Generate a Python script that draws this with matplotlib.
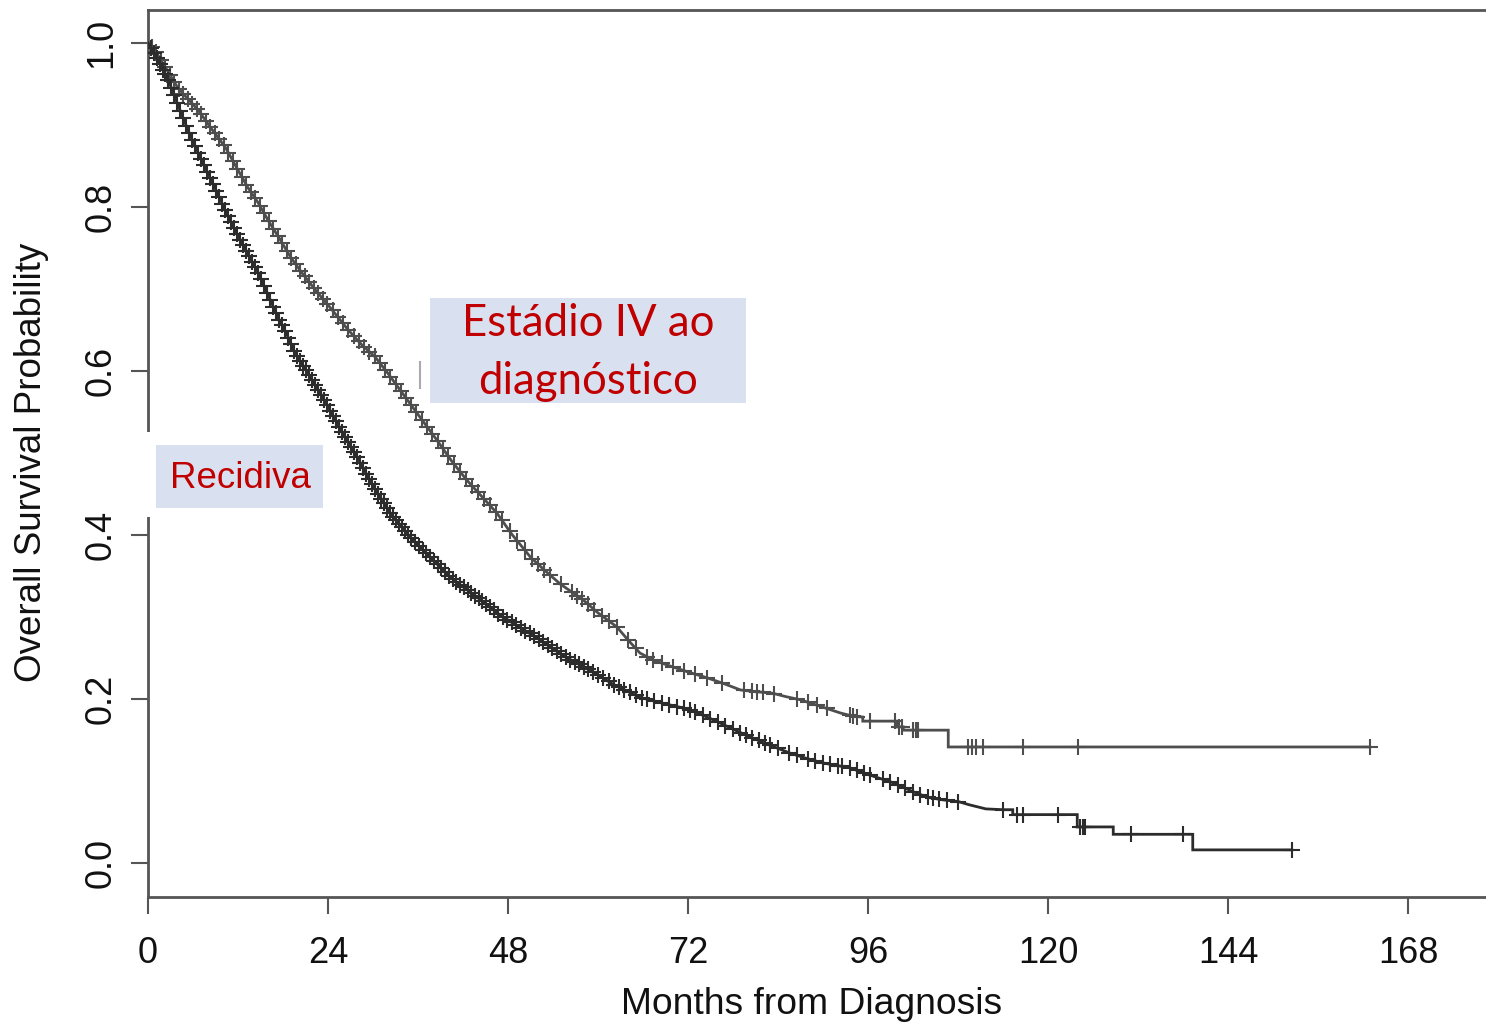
import numpy as np
import matplotlib
matplotlib.use('Agg')
import matplotlib.pyplot as plt
from matplotlib.patches import Rectangle
from matplotlib.lines import Line2D

# Estádio IV ao diagnóstico (upper curve): months, survival (vertices as read)
st4_t = [0, 1, 2, 3, 4, 5, 6.7, 8.5, 10.3, 12, 13.3, 14.7, 16, 17.5, 19, 20.5, 22.3, 24.5,
         26.7, 28.5, 30.3, 32, 33.6, 36, 38.5, 40.5, 42.5, 44.5, 46.5, 48.5, 51, 53, 55, 58,
         60, 62.5, 64, 65.6, 67.5, 70, 72, 74.5, 77, 79, 81, 83.3, 85, 87, 89, 92.3, 94,
         95.3, 95.3, 99.9, 99.9, 100.7, 100.7, 106.7, 106.7, 162.9]
st4_s = [1.0, 0.99, 0.975, 0.96, 0.945, 0.935, 0.918, 0.895, 0.873, 0.845, 0.824, 0.805,
         0.784, 0.762, 0.739, 0.72, 0.699, 0.675, 0.650, 0.632, 0.617, 0.597, 0.577, 0.547,
         0.516, 0.49, 0.467, 0.447, 0.427, 0.401, 0.373, 0.356, 0.34, 0.321, 0.305, 0.288,
         0.272, 0.256, 0.247, 0.239, 0.233, 0.226, 0.218, 0.211, 0.209, 0.207, 0.203, 0.199,
         0.193, 0.183, 0.179, 0.178, 0.173, 0.173, 0.166, 0.166, 0.162, 0.162, 0.1415, 0.1415]
st4_cens = [0.5, 1.1, 1.7, 2.3, 2.9, 3.5, 4.1, 4.7, 5.3, 5.9, 6.5, 7.1, 7.7, 8.3, 8.9, 9.5,
            10.1, 10.7, 11.3, 11.9, 12.5, 13.1, 13.7, 14.3, 14.9, 15.5, 16.1, 16.7, 17.3,
            17.9, 18.5, 19.1, 19.7, 20.3, 20.9, 21.5, 22.1, 22.7, 23.3, 23.9, 24.6, 25.3, 26,
            26.7, 27.4, 28.1, 28.8, 29.5, 30.2, 30.9, 31.6, 32.3, 33, 33.7, 34.4, 35.1, 35.8,
            36.5, 37.2, 37.9, 38.6, 39.3, 40, 40.8, 41.6, 42.4, 43.2, 44, 44.8, 45.6, 46.4,
            47.2, 48.2, 49.2, 50.2, 51.2, 52, 52.8, 53.6, 55, 56.5, 57.2, 57.9, 58.6, 59.5,
            60.5, 61.5, 62.5, 64, 65, 66.5, 67.3, 68.5, 70, 71.5, 73, 74.5, 76.5, 79.5, 80.5,
            81.2, 82, 83.5, 86.5, 88, 89.2, 90.5, 93.6, 94, 94.5, 96.3, 99.6, 100.2, 100.5,
            102, 102.4, 102.7, 109.3, 109.9, 110.4, 111.3, 116.7, 124, 162.9]

# Recidiva (lower curve)
rec_t = [0, 1, 2.7, 4.4, 5.5, 6.7, 8.9, 10.2, 11.6, 13.2, 14.7, 16, 17.3, 18.5, 19.6, 21.5,
         23.3, 25.5, 27.9, 30, 32.3, 35, 37.6, 40.5, 43.9, 47, 50, 52.3, 55.5, 59, 62, 65.6,
         69, 72.3, 75.5, 79, 82, 85.6, 88, 90, 93.6, 96.3, 99, 102, 104, 106, 108, 109.5,
         111.7, 114, 115.3, 115.3, 123.9, 123.9, 128.7, 128.7, 139.3, 139.3, 152.5]
rec_s = [1.0, 0.985, 0.955, 0.915, 0.89, 0.866, 0.824, 0.798, 0.772, 0.745, 0.72, 0.693,
         0.666, 0.645, 0.622, 0.595, 0.568, 0.532, 0.495, 0.46, 0.427, 0.397, 0.373, 0.347,
         0.324, 0.302, 0.285, 0.272, 0.252, 0.235, 0.218, 0.202, 0.194, 0.187, 0.174, 0.159,
         0.147, 0.134, 0.127, 0.122, 0.116, 0.107, 0.099, 0.087, 0.080, 0.077, 0.075, 0.071,
         0.066, 0.065, 0.065, 0.059, 0.059, 0.044, 0.044, 0.035, 0.035, 0.016, 0.016]
rec_cens = [0.4, 0.8, 1.2, 1.6, 2.0, 2.3, 2.7, 3.1, 3.5, 3.9, 4.3, 4.7, 5.1, 5.5, 5.9, 6.3,
            6.7, 7.1, 7.5, 7.9, 8.3, 8.7, 9.1, 9.5, 9.9, 10.3, 10.7, 11.1, 11.5, 11.9, 12.3,
            12.7, 13.1, 13.5, 13.9, 14.3, 14.7, 15.1, 15.5, 15.9, 16.3, 16.7, 17.1, 17.5,
            17.9, 18.3, 18.7, 19.1, 19.5, 19.9, 20.3, 20.7, 21.1, 21.5, 21.9, 22.3, 22.7,
            23.1, 23.5, 23.9, 24.3, 24.7, 25.1, 25.5, 25.9, 26.3, 26.7, 27.1, 27.5, 27.9,
            28.3, 28.7, 29.1, 29.5, 29.9, 30.3, 30.7, 31.1, 31.5, 31.9, 32.3, 32.7, 33.1,
            33.5, 33.9, 34.3, 34.7, 35.1, 35.6, 36.1, 36.6, 37.1, 37.6, 38.1, 38.6, 39.1,
            39.6, 40.1, 40.6, 41.1, 41.6, 42.1, 42.6, 43.1, 43.6, 44.1, 44.6, 45.1, 45.6,
            46.1, 46.7, 47.3, 47.9, 48.5, 49.1, 49.7, 50.3, 50.9, 51.5, 52.1, 52.7, 53.3,
            53.9, 54.5, 55.1, 55.7, 56.3, 56.9, 57.5, 58.1, 58.7, 59.3, 60, 60.7, 61.4, 62.1,
            62.8, 63.5, 64.2, 65, 65.8, 66.6, 67.4, 68.5, 69.5, 70.5, 71.5, 72.3, 73, 74, 75,
            76, 77, 78, 79, 79.8, 80.6, 81.4, 82.3, 83, 84, 85.5, 86.5, 88, 89, 90, 91, 92,
            92.5, 93.6, 94.5, 95.5, 96.3, 98, 99, 100, 101, 102, 103, 104, 104.7, 105.4,
            106.5, 108, 114, 115.9, 116.7, 121.3, 124.2, 124.6, 124.9, 131, 138, 152.5]

x_ticks = [0, 24, 48, 72, 96, 120, 144, 168]
y_ticks = [0.0, 0.2, 0.4, 0.6, 0.8, 1.0]

plt.rcParams['font.family'] = ['Liberation Sans', 'DejaVu Sans']

W, H = 1486, 1029
fig = plt.figure(figsize=(W / 100, H / 100), dpi=100)
ax = fig.add_axes([148 / W, (H - 897) / H, 1350 / W, 887 / H])
ax.set_xlim(0, 1350 / 7.5)
ax.set_ylim((863 - 897) / 820, (863 - 10) / 820)

for t, s, cens, col in [(st4_t, st4_s, st4_cens, '#4e4e4e'),
                        (rec_t, rec_s, rec_cens, '#2c2c2c')]:
    ax.plot(t, s, color=col, lw=2.0, zorder=3, solid_joinstyle='miter')
    # censor marks sit on the curve
    cy = np.interp(cens, t, s)
    ax.plot(cens, cy, ls='none', marker='+', ms=11, mew=1.5, color=col, zorder=3)

spine_col = '#555555'
for side in ['left', 'bottom', 'top', 'right']:
    ax.spines[side].set_color(spine_col)
    ax.spines[side].set_linewidth(2)

ax.set_xticks(x_ticks)
ax.set_xticklabels([str(v) for v in x_ticks])
ax.set_yticks(y_ticks)
ax.set_yticklabels(['%.1f' % v for v in y_ticks], rotation=90, va='center')
ax.tick_params(axis='both', direction='out', length=12, width=1.5, color=spine_col,
               labelsize=26, labelcolor='#111111')
ax.tick_params(axis='x', pad=16)
ax.tick_params(axis='y', pad=9)

fig.text(812 / W, 1 - 1005 / H, 'Months from Diagnosis', ha='center', va='center',
         fontsize=26.8, color='#111111')
fig.text(32 / W, 1 - 462 / H, 'Overall Survival Probability', ha='center', va='center',
         rotation=90, fontsize=26.5, color='#111111')

# annotation boxes
box_col = '#D9E1F0'
red = '#C00000'
fig.patches.append(Rectangle((146 / W, 1 - 517 / H), 7 / W, 85 / H, transform=fig.transFigure,
                             facecolor='white', edgecolor='none', zorder=5))
fig.patches.append(Rectangle((430 / W, 1 - 403 / H), 316 / W, 105 / H, transform=fig.transFigure,
                             facecolor=box_col, edgecolor='none', zorder=5))
fig.patches.append(Rectangle((156 / W, 1 - 508 / H), 167 / W, 63 / H, transform=fig.transFigure,
                             facecolor=box_col, edgecolor='none', zorder=5))
fig.lines.append(Line2D([420 / W, 420 / W], [1 - 362 / H, 1 - 388 / H], transform=fig.transFigure,
                        color='#aaaaaa', lw=1.5, zorder=5))

fig.text(588 / W, 1 - 324 / H, 'Estádio IV ao', ha='center', va='center', fontsize=31.5,
         color=red, family=['Lato', 'DejaVu Sans'], zorder=6)
fig.text(588 / W, 1 - 381 / H, 'diagnóstico', ha='center', va='center', fontsize=31.5,
         color=red, family=['Lato', 'DejaVu Sans'], zorder=6)
fig.text(240 / W, 1 - 479 / H, 'Recidiva', ha='center', va='center', fontsize=26.5,
         color=red, zorder=6)

fig.savefig('out.png', dpi=100)
